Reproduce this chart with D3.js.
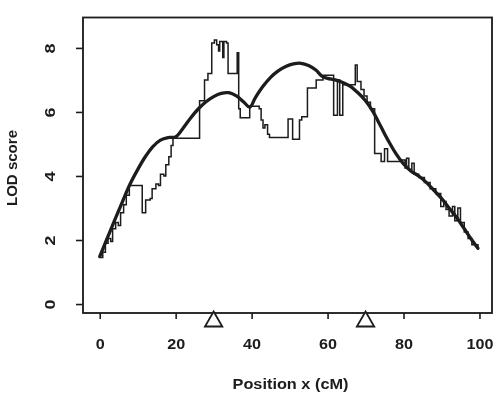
<!DOCTYPE html>
<html>
<head>
<meta charset="utf-8">
<script src="https://cdn.jsdelivr.net/npm/d3@7"></script>
<style>
    body { margin: 0; background: #fff; }
    svg { display: block; }
</style>
</head>
<body>
<div id="canvas"></div>
<script>
"use strict";

// LOD profile along the chromosome: step function (single marker scan)
// and the smoothed curve.
let stepPos = [0, 0.8, 1.5, 2.2, 2.9, 3.4, 4.2, 4.9, 5.5, 6.3, 7.0, 7.8, 11.2, 12.1, 13.3, 13.8,
    14.8, 15.5, 16.0, 16.9, 17.4, 18.2, 18.8, 19.3, 26.3, 27.6, 28.5, 29.5, 30.2, 30.8, 31.3,
    31.6, 32.4, 32.7, 33.4, 33.8, 36.2, 36.6, 37.0, 39.5, 42.0, 42.5, 43.0, 43.5, 44.2, 44.7,
    49.6, 50.8, 52.6, 53.2, 54.7, 57.0, 58.8, 61.6, 62.6, 63.2, 64.0, 67.3, 67.8, 68.8, 69.6,
    70.4, 71.3, 72.4, 74.1, 75.0, 75.8, 79.2, 80.4, 80.8, 81.4, 82.2, 82.8, 84.0, 85.5, 87.0,
    88.5, 89.8, 90.6, 91.2, 92.0, 92.9, 93.5, 94.3, 95.0, 96.0, 97.0, 98.0, 99.6];
let stepLod = [1.45, 1.62, 1.9, 2.05, 1.95, 2.35, 2.55, 2.45, 2.85, 3.1, 3.4, 3.7, 2.85, 3.25, 3.3, 3.6,
    3.75, 3.7, 4.05, 4.0, 4.35, 4.6, 4.95, 5.18, 6.35, 7.0, 7.2, 8.15, 8.25, 8.1, 7.9,
    8.2, 7.7, 8.2, 8.15, 7.2, 7.85, 6.1, 5.82, 6.18, 6.1, 5.75, 5.5, 5.6, 5.3, 5.2,
    5.78, 5.15, 5.75, 5.85, 6.75, 7.0, 7.15, 5.9, 7.0, 5.9, 6.85, 7.47, 6.95, 6.7, 6.5,
    6.3, 6.1, 4.7, 4.45, 4.85, 4.45, 4.5, 4.25, 4.55, 4.2, 4.4, 4.05, 3.95, 3.8, 3.6,
    3.45, 3.05, 3.2, 2.95, 2.75, 3.05, 2.6, 3.0, 2.55, 2.25, 2.05, 1.85, 1.75];

let smoothPos = [0, 3, 6, 8, 10, 12, 14, 16, 18, 20, 22, 24, 26, 28, 30, 32, 34, 36, 38, 39.5,
    41, 43, 45, 47, 49, 51, 53, 55, 57, 58.5, 60, 62, 64, 66, 68, 70, 72, 74, 76, 78,
    80, 82, 84, 86, 88, 90, 92, 94, 96, 98, 99.6];
let smoothLod = [1.48, 2.35, 3.2, 3.75, 4.2, 4.6, 4.92, 5.12, 5.2, 5.22, 5.5, 5.82, 6.1, 6.32, 6.48,
    6.58, 6.6, 6.5, 6.3, 6.15, 6.45, 6.8, 7.08, 7.28, 7.42, 7.5, 7.52, 7.45, 7.3, 7.12,
    7.05, 7.0, 6.92, 6.8, 6.6, 6.35, 6.0, 5.55, 5.1, 4.7, 4.38, 4.15, 4.0, 3.8, 3.55,
    3.3, 3.0, 2.7, 2.35, 2.0, 1.74];

// marker positions (triangles under the axis)
let markerPos = [30, 70];

let xTicks = [0, 20, 40, 60, 80, 100];
let yTicks = [0, 2, 4, 6, 8];

let svgWidth = 504;
let svgHeight = 395;

// plot box in pixels
let box = { left: 83, right: 492, top: 17.5, bottom: 313 };

let ink = "#1b1b1b";
let svg;

(function() {
    svg = d3.select("#canvas")
        .append("svg")
        .attr("width", svgWidth)
        .attr("height", svgHeight);

    // slight softening, the original is a scan
    svg.append("defs").append("filter")
        .attr("id", "soft")
        .append("feGaussianBlur")
        .attr("stdDeviation", 0.45);

    drawChart();
})();

function drawChart() {
    let g = svg.append("g").attr("filter", "url(#soft)");

    let xScale = d3.scaleLinear()
        .domain([-4.4, 103.3])
        .range([box.left, box.right]);

    let yScale = d3.scaleLinear()
        .domain([-0.28, 8.95])
        .range([box.bottom, box.top]);

    // frame
    g.append("rect")
        .attr("x", box.left)
        .attr("y", box.top)
        .attr("width", box.right - box.left)
        .attr("height", box.bottom - box.top)
        .attr("fill", "none")
        .attr("stroke", ink)
        .attr("stroke-width", 1.8);

    // x axis (ticks hang below the frame)
    let xAxis = d3.axisBottom(xScale)
        .tickValues(xTicks)
        .tickSize(6)
        .tickPadding(30);

    let xg = g.append("g")
        .attr("transform", "translate(0," + box.bottom + ")")
        .call(xAxis);
    xg.select(".domain").remove();
    xg.selectAll("line").attr("stroke", ink).attr("stroke-width", 1.6);
    xg.selectAll("text")
        .attr("fill", ink)
        .attr("dy", "0")
        .style("font-family", "'Liberation Sans', Arial, sans-serif")
        .style("font-weight", "bold")
        .style("font-size", "14.5px")
        .attr("textLength", function(d) { return String(d).length * 9; })
        .attr("lengthAdjust", "spacingAndGlyphs");

    // y axis, labels rotated like R's default
    let yAxis = d3.axisLeft(yScale)
        .tickValues(yTicks)
        .tickSize(7)
        .tickPadding(0);

    let yg = g.append("g")
        .attr("transform", "translate(" + box.left + ",0)")
        .call(yAxis);
    yg.select(".domain").remove();
    yg.selectAll("line").attr("stroke", ink).attr("stroke-width", 1.6);
    // tick groups already sit at the tick's y, so only shift left and rotate
    yg.selectAll("text")
        .attr("fill", ink)
        .attr("x", 0)
        .attr("y", 0)
        .attr("dy", null)
        .attr("text-anchor", "middle")
        .attr("transform", "translate(" + (55 - box.left) + ",0) rotate(-90)")
        .style("font-family", "'Liberation Sans', Arial, sans-serif")
        .style("font-weight", "bold")
        .style("font-size", "14.5px")
        .attr("textLength", 10)
        .attr("lengthAdjust", "spacingAndGlyphs");

    // step profile (thin)
    let stepData = stepPos.map(function(p, i) { return [p, stepLod[i]]; });
    let stepLine = d3.line()
        .x(function(d) { return xScale(d[0]); })
        .y(function(d) { return yScale(d[1]); })
        .curve(d3.curveStepAfter);

    g.append("path")
        .datum(stepData)
        .attr("d", stepLine)
        .attr("fill", "none")
        .attr("stroke", ink)
        .attr("stroke-width", 1.5);

    // smoothed profile (thick)
    let smoothData = smoothPos.map(function(p, i) { return [p, smoothLod[i]]; });
    let smoothLine = d3.line()
        .x(function(d) { return xScale(d[0]); })
        .y(function(d) { return yScale(d[1]); })
        .curve(d3.curveCatmullRom.alpha(0.5));

    g.append("path")
        .datum(smoothData)
        .attr("d", smoothLine)
        .attr("fill", "none")
        .attr("stroke", ink)
        .attr("stroke-width", 3.3)
        .attr("stroke-linecap", "round");

    // marker triangles
    let tri = d3.symbol().type(d3.symbolTriangle).size(130);
    g.selectAll("path.marker")
        .data(markerPos)
        .join("path")
        .classed("marker", true)
        .attr("d", tri)
        .attr("transform", function(d) {
            return "translate(" + xScale(d) + "," + (box.bottom + 8.5) + ")";
        })
        .attr("fill", "white")
        .attr("stroke", ink)
        .attr("stroke-width", 1.8);

    // axis titles
    g.append("text")
        .attr("x", (box.left + box.right) / 2 + 3)
        .attr("y", 389)
        .attr("text-anchor", "middle")
        .attr("fill", ink)
        .style("font-family", "'Liberation Sans', Arial, sans-serif")
        .style("font-weight", "bold")
        .style("font-size", "14px")
        .attr("textLength", 116)
        .attr("lengthAdjust", "spacingAndGlyphs")
        .text("Position x (cM)");

    g.append("text")
        .attr("transform", "translate(17,168) rotate(-90)")
        .attr("text-anchor", "middle")
        .attr("fill", ink)
        .style("font-family", "'Liberation Sans', Arial, sans-serif")
        .style("font-weight", "bold")
        .style("font-size", "14px")
        .attr("textLength", 76)
        .attr("lengthAdjust", "spacingAndGlyphs")
        .text("LOD score");
}
</script>
</body>
</html>
